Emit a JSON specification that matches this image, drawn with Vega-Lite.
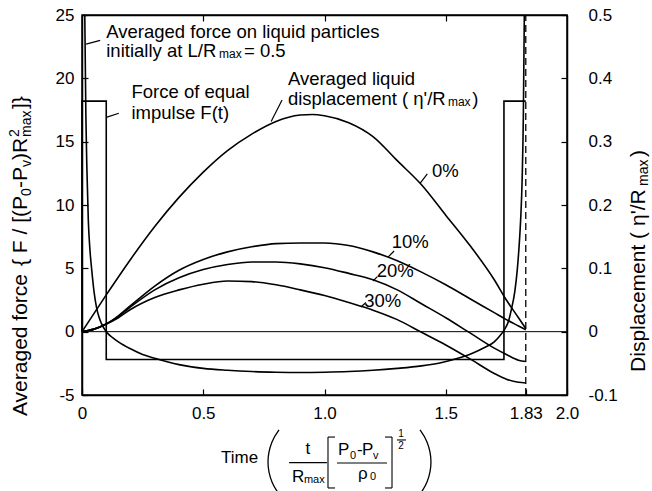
{
  "$schema": "https://vega.github.io/schema/vega-lite/v6.json",
  "width": 485,
  "height": 380,
  "autosize": {"type": "none"},
  "padding": {"left": 82, "top": 15, "right": 85, "bottom": 96},
  "background": "white",
  "config": {
    "font": "Liberation Sans",
    "view": {"stroke": "black", "strokeWidth": 1.5},
    "axis": {
      "grid": false, "domainColor": "black", "tickColor": "black", "labelColor": "black", "titleColor": "black",
      "labelFont": "Liberation Sans", "titleFont": "Liberation Sans", "labelFontSize": 17, "titleFontSize": 18.5,
      "titleFontWeight": "normal", "tickSize": -6, "domainWidth": 1.5, "tickWidth": 1.2,
      "labelOverlap": false, "labelFlush": false, "labelBound": false
    }
  },
  "datasets": {
    "force": [
      {"x":0.004,"y":60},{"x":0.008,"y":35},{"x":0.012,"y":24},{"x":0.016,"y":17},{"x":0.02,"y":13},{"x":0.026,"y":8.8},
      {"x":0.033,"y":6.4},{"x":0.04,"y":4.9},{"x":0.05,"y":3.1},{"x":0.06,"y":1.9},{"x":0.07,"y":1.15},{"x":0.08,"y":0.65},
      {"x":0.1,"y":0.0},{"x":0.125,"y":-0.45},{"x":0.15,"y":-0.8},{"x":0.2,"y":-1.35},{"x":0.25,"y":-1.8},{"x":0.3,"y":-2.1},
      {"x":0.4,"y":-2.6},{"x":0.5,"y":-2.9},{"x":0.6,"y":-3.05},{"x":0.7,"y":-3.15},{"x":0.8,"y":-3.2},{"x":0.9,"y":-3.22},
      {"x":1.0,"y":-3.2},{"x":1.1,"y":-3.15},{"x":1.2,"y":-3.05},{"x":1.3,"y":-2.9},{"x":1.4,"y":-2.7},{"x":1.48,"y":-2.45},
      {"x":1.55,"y":-2.1},{"x":1.61,"y":-1.7},{"x":1.66,"y":-1.25},{"x":1.7,"y":-0.8},{"x":1.72,"y":-0.4},{"x":1.74,"y":0.1},
      {"x":1.76,"y":0.9},{"x":1.77,"y":1.7},{"x":1.785,"y":3.2},{"x":1.795,"y":4.9},{"x":1.805,"y":7.5},{"x":1.81,"y":9.3},
      {"x":1.815,"y":12},{"x":1.82,"y":17},{"x":1.824,"y":25},{"x":1.828,"y":40}
    ],
    "impulse": [
      {"x":0,"y":0,"o":0},{"x":0,"y":18.2,"o":1},{"x":0.1,"y":18.2,"o":2},{"x":0.1,"y":-2.2,"o":3},
      {"x":1.74,"y":-2.2,"o":4},{"x":1.74,"y":18.2,"o":5},{"x":1.83,"y":18.2,"o":6}
    ],
    "guides": [
      {"x":0,"y":0,"x2":2,"y2":0}
    ],
    "dashed": [
      {"x":1.83,"y":-5,"x2":1.83,"y2":25}
    ],
    "leaders": [
      {"x":0.017,"y":22.7,"x2":0.075,"y2":23.0},
      {"x":0.1,"y":16.92,"x2":0.152,"y2":17.24},
      {"x":0.78,"y":16.6,"x2":0.825,"y2":18.29},
      {"x":1.394,"y":11.7,"x2":1.424,"y2":12.45},
      {"x":1.263,"y":5.9,"x2":1.287,"y2":6.37},
      {"x":1.2,"y":4.0,"x2":1.218,"y2":4.35},
      {"x":1.15,"y":1.95,"x2":1.171,"y2":2.3}
    ],
    "ann": [
      {"x":0.1,"y":23.16,"t":"Averaged force on liquid particles"},
      {"x":0.1,"y":21.66,"t":"initially at L/R"},
      {"x":0.668,"y":21.66,"t":"= 0.5"},
      {"x":0.204,"y":18.45,"t":"Force of equal"},
      {"x":0.204,"y":16.79,"t":"impulse F(t)"},
      {"x":0.849,"y":19.47,"t":"Averaged liquid"},
      {"x":0.849,"y":17.9,"t":"displacement ( η'/R"},
      {"x":1.609,"y":17.9,"t":")"},
      {"x":1.443,"y":12.21,"t":"0%"},
      {"x":1.277,"y":6.58,"t":"10%"},
      {"x":1.215,"y":4.34,"t":"20%"},
      {"x":1.164,"y":1.92,"t":"30%"}
    ],
    "annSmall": [
      {"x":0.565,"y":21.58,"t":"max"},
      {"x":1.509,"y":17.8,"t":"max"}
    ],
    "fx": [
      {"x":0.573,"y":-9.97,"t":"Time"},
      {"x":0.922,"y":-9.26,"t":"t"},
      {"x":0.866,"y":-11.47,"t":"R"},
      {"x":1.0557,"y":-9.34,"t":"P"},
      {"x":1.134,"y":-9.34,"t":"-"},
      {"x":1.1546,"y":-9.34,"t":"P"},
      {"x":1.138,"y":-11.24,"t":"ρ"}
    ],
    "fxSmall": [
      {"x":0.915,"y":-11.71,"t":"max"},
      {"x":1.105,"y":-9.82,"t":"0"},
      {"x":1.2,"y":-9.82,"t":"v"},
      {"x":1.1876,"y":-11.47,"t":"0"}
    ],
    "fxTiny": [
      {"x":1.3155,"y":-8.08,"t":"1"},
      {"x":1.3155,"y":-9.03,"t":"2"}
    ],
    "fxRules": [
      {"x":0.854,"y":-10.34,"x2":1.01,"y2":-10.34},
      {"x":1.0515,"y":-10.37,"x2":1.2577,"y2":-10.37},
      {"x":1.299,"y":-8.55,"x2":1.336,"y2":-8.55},
      {"x":1.0144,"y":-8.32,"x2":1.0144,"y2":-12.34},
      {"x":1.0144,"y":-8.32,"x2":1.0433,"y2":-8.32},
      {"x":1.0144,"y":-12.34,"x2":1.0433,"y2":-12.34},
      {"x":1.2784,"y":-8.32,"x2":1.2784,"y2":-12.34},
      {"x":1.2495,"y":-8.32,"x2":1.2784,"y2":-8.32},
      {"x":1.2495,"y":-12.34,"x2":1.2784,"y2":-12.34}
    ],
    "parens": [
      {"x":0.8124,"y":-7.76,"p":"L","o":0},{"x":0.7835,"y":-8.71,"p":"L","o":1},{"x":0.767,"y":-10.29,"p":"L","o":2},
      {"x":0.7835,"y":-11.87,"p":"L","o":3},{"x":0.8124,"y":-12.82,"p":"L","o":4},
      {"x":1.394,"y":-7.76,"p":"R","o":0},{"x":1.4227,"y":-8.71,"p":"R","o":1},{"x":1.439,"y":-10.29,"p":"R","o":2},
      {"x":1.4227,"y":-11.87,"p":"R","o":3},{"x":1.394,"y":-12.82,"p":"R","o":4}
    ],
    "ytitle": [
      {"x":-0.2268,"y":-6.66,"t":"Averaged force"},
      {"x":-0.2268,"y":5.18,"t":"{ F / [(P"},
      {"x":-0.2268,"y":11.34,"t":"-P"},
      {"x":-0.2268,"y":13.55,"t":")R"},
      {"x":-0.2268,"y":17.58,"t":"]}"},
      {"x":2.3216,"y":-3.18,"t":"Displacement ("},
      {"x":2.3216,"y":8.34,"t":"η'/R"},
      {"x":2.3216,"y":13.79,"t":")"}
    ],
    "ytitleSmall": [
      {"x":-0.2103,"y":10.71,"t":"0"},
      {"x":-0.2103,"y":13.0,"t":"v"},
      {"x":-0.2598,"y":15.37,"t":"2"},
      {"x":-0.2103,"y":15.37,"t":"max"},
      {"x":2.334,"y":11.5,"t":"max"}
    ],
    "disp": [
      {"x":0,"d":0,"c":"0%"},{"x":0.1,"d":0.058,"c":"0%"},{"x":0.2,"d":0.114,"c":"0%"},{"x":0.3,"d":0.166,"c":"0%"},
      {"x":0.4,"d":0.212,"c":"0%"},{"x":0.5,"d":0.252,"c":"0%"},{"x":0.6,"d":0.286,"c":"0%"},{"x":0.7,"d":0.312,"c":"0%"},
      {"x":0.8,"d":0.332,"c":"0%"},{"x":0.9,"d":0.342,"c":"0%"},{"x":0.95,"d":0.343,"c":"0%"},{"x":1.0,"d":0.341,"c":"0%"},
      {"x":1.1,"d":0.33,"c":"0%"},{"x":1.2,"d":0.308,"c":"0%"},{"x":1.3,"d":0.27,"c":"0%"},{"x":1.4,"d":0.232,"c":"0%"},
      {"x":1.5,"d":0.184,"c":"0%"},{"x":1.6,"d":0.136,"c":"0%"},{"x":1.7,"d":0.082,"c":"0%"},{"x":1.75,"d":0.05,"c":"0%"},
      {"x":1.8,"d":0.022,"c":"0%"},{"x":1.83,"d":0.005,"c":"0%"},

      {"x":0,"d":0,"c":"10%"},{"x":0.05,"d":0.004,"c":"10%"},{"x":0.1,"d":0.012,"c":"10%"},{"x":0.15,"d":0.025,"c":"10%"},
      {"x":0.2,"d":0.041,"c":"10%"},{"x":0.3,"d":0.072,"c":"10%"},{"x":0.4,"d":0.097,"c":"10%"},{"x":0.5,"d":0.114,"c":"10%"},
      {"x":0.6,"d":0.126,"c":"10%"},{"x":0.7,"d":0.134,"c":"10%"},{"x":0.8,"d":0.139,"c":"10%"},{"x":0.9,"d":0.14,"c":"10%"},
      {"x":1.0,"d":0.14,"c":"10%"},{"x":1.1,"d":0.136,"c":"10%"},{"x":1.2,"d":0.126,"c":"10%"},{"x":1.3,"d":0.112,"c":"10%"},
      {"x":1.4,"d":0.094,"c":"10%"},{"x":1.5,"d":0.074,"c":"10%"},{"x":1.6,"d":0.052,"c":"10%"},{"x":1.7,"d":0.03,"c":"10%"},
      {"x":1.75,"d":0.019,"c":"10%"},{"x":1.8,"d":0.009,"c":"10%"},{"x":1.83,"d":0.003,"c":"10%"},

      {"x":0,"d":0,"c":"20%"},{"x":0.05,"d":0.004,"c":"20%"},{"x":0.1,"d":0.012,"c":"20%"},{"x":0.15,"d":0.024,"c":"20%"},
      {"x":0.2,"d":0.039,"c":"20%"},{"x":0.3,"d":0.066,"c":"20%"},{"x":0.4,"d":0.085,"c":"20%"},{"x":0.5,"d":0.098,"c":"20%"},
      {"x":0.6,"d":0.106,"c":"20%"},{"x":0.7,"d":0.11,"c":"20%"},{"x":0.8,"d":0.11,"c":"20%"},{"x":0.9,"d":0.107,"c":"20%"},
      {"x":1.0,"d":0.101,"c":"20%"},{"x":1.1,"d":0.092,"c":"20%"},{"x":1.2,"d":0.082,"c":"20%"},{"x":1.3,"d":0.066,"c":"20%"},
      {"x":1.4,"d":0.044,"c":"20%"},{"x":1.5,"d":0.022,"c":"20%"},{"x":1.6,"d":-0.002,"c":"20%"},{"x":1.7,"d":-0.026,"c":"20%"},
      {"x":1.75,"d":-0.036,"c":"20%"},{"x":1.8,"d":-0.045,"c":"20%"},{"x":1.83,"d":-0.047,"c":"20%"},

      {"x":0,"d":0,"c":"30%"},{"x":0.05,"d":0.004,"c":"30%"},{"x":0.1,"d":0.012,"c":"30%"},{"x":0.15,"d":0.022,"c":"30%"},
      {"x":0.2,"d":0.035,"c":"30%"},{"x":0.3,"d":0.054,"c":"30%"},{"x":0.4,"d":0.066,"c":"30%"},{"x":0.5,"d":0.075,"c":"30%"},
      {"x":0.6,"d":0.08,"c":"30%"},{"x":0.7,"d":0.079,"c":"30%"},{"x":0.8,"d":0.074,"c":"30%"},{"x":0.9,"d":0.066,"c":"30%"},
      {"x":1.0,"d":0.057,"c":"30%"},{"x":1.1,"d":0.046,"c":"30%"},{"x":1.2,"d":0.034,"c":"30%"},{"x":1.3,"d":0.019,"c":"30%"},
      {"x":1.4,"d":-0.001,"c":"30%"},{"x":1.5,"d":-0.021,"c":"30%"},{"x":1.6,"d":-0.043,"c":"30%"},{"x":1.7,"d":-0.066,"c":"30%"},
      {"x":1.75,"d":-0.075,"c":"30%"},{"x":1.8,"d":-0.08,"c":"30%"},{"x":1.83,"d":-0.081,"c":"30%"}
    ]
  },
  "layer": [
    {
      "encoding": {
        "x": {"field": "x", "type": "quantitative", "scale": {"domain": [0, 2], "nice": false, "zero": false},
          "axis": {"orient": "bottom", "title": null, "values": [0, 0.5, 1, 1.5, 1.83, 2],
            "labelExpr": "datum.value == 0 ? '0' : (datum.value == 1.83 ? '1.83' : format(datum.value, '.1f'))",
            "labelPadding": 16}},
        "y": {"field": "y", "type": "quantitative", "scale": {"domain": [-5, 25], "nice": false, "zero": false},
          "axis": {"orient": "left", "values": [-5, 0, 5, 10, 15, 20, 25], "title": null,
            "labelExpr": "datum.value < 0 ? '-' + (-datum.value) : '' + datum.value",
            "labelPadding": 14}}
      },
      "layer": [
        {"data": {"name": "guides"}, "mark": {"type": "rule", "strokeWidth": 1, "color": "black"},
          "encoding": {"x2": {"field": "x2"}, "y2": {"field": "y2"}}},
        {"data": {"name": "dashed"}, "mark": {"type": "rule", "strokeWidth": 1.3, "color": "black", "strokeDash": [7, 4]},
          "encoding": {"x2": {"field": "x2"}, "y2": {"field": "y2"}}},
        {"data": {"name": "impulse"}, "mark": {"type": "line", "strokeWidth": 1.6, "color": "black", "interpolate": "linear"},
          "encoding": {"order": {"field": "o"}}},
        {"data": {"name": "force"}, "mark": {"type": "line", "strokeWidth": 1.6, "color": "black", "interpolate": "monotone", "clip": true},
          "encoding": {}},
        {"data": {"name": "leaders"}, "mark": {"type": "rule", "strokeWidth": 1.2, "color": "black"},
          "encoding": {"x2": {"field": "x2"}, "y2": {"field": "y2"}}},
        {"data": {"name": "ann"}, "mark": {"type": "text", "align": "left", "baseline": "alphabetic", "fontSize": 18.5, "font": "Liberation Sans", "color": "black"},
          "encoding": {"text": {"field": "t"}}},
        {"data": {"name": "annSmall"}, "mark": {"type": "text", "align": "left", "baseline": "alphabetic", "fontSize": 12, "font": "Liberation Sans", "color": "black"},
          "encoding": {"text": {"field": "t"}}},
        {"data": {"name": "fx"}, "mark": {"type": "text", "align": "left", "baseline": "middle", "fontSize": 17, "font": "Liberation Sans", "color": "black"},
          "encoding": {"text": {"field": "t"}}},
        {"data": {"name": "fxSmall"}, "mark": {"type": "text", "align": "left", "baseline": "middle", "fontSize": 11, "font": "Liberation Sans", "color": "black"},
          "encoding": {"text": {"field": "t"}}},
        {"data": {"name": "fxTiny"}, "mark": {"type": "text", "align": "center", "baseline": "middle", "fontSize": 10, "font": "Liberation Sans", "color": "black"},
          "encoding": {"text": {"field": "t"}}},
        {"data": {"name": "fxRules"}, "mark": {"type": "rule", "strokeWidth": 1.1, "color": "black"},
          "encoding": {"x2": {"field": "x2"}, "y2": {"field": "y2"}}},
        {"data": {"name": "parens"}, "mark": {"type": "line", "strokeWidth": 1.3, "color": "black", "interpolate": "natural"},
          "encoding": {"detail": {"field": "p"}, "order": {"field": "o"}}},
        {"data": {"name": "ytitle"}, "mark": {"type": "text", "angle": 270, "align": "left", "baseline": "alphabetic", "fontSize": 21, "font": "Liberation Sans", "color": "black"},
          "encoding": {"text": {"field": "t"}}},
        {"data": {"name": "ytitleSmall"}, "mark": {"type": "text", "angle": 270, "align": "left", "baseline": "alphabetic", "fontSize": 14, "font": "Liberation Sans", "color": "black"},
          "encoding": {"text": {"field": "t"}}}
      ]
    },
    {
      "data": {"name": "disp"},
      "mark": {"type": "line", "strokeWidth": 1.6, "color": "black", "interpolate": "monotone"},
      "encoding": {
        "x": {"field": "x", "type": "quantitative", "scale": {"domain": [0, 2], "nice": false, "zero": false},
          "axis": {"orient": "top", "title": null, "labels": false, "values": [0.5, 1, 1.5]}},
        "y": {"field": "d", "type": "quantitative", "scale": {"domain": [-0.1, 0.5], "nice": false, "zero": false},
          "axis": {"orient": "right", "values": [-0.1, 0, 0.1, 0.2, 0.3, 0.4, 0.5], "title": null,
            "labelExpr": "datum.value == 0 ? '0' : (datum.value < 0 ? '-' : '') + format(abs(datum.value), '.1f')",
            "labelAlign": "left", "labelPadding": 27}},
        "detail": {"field": "c"}
      }
    }
  ],
  "resolve": {"scale": {"y": "independent"}, "axis": {"x": "independent", "y": "independent"}}
}
